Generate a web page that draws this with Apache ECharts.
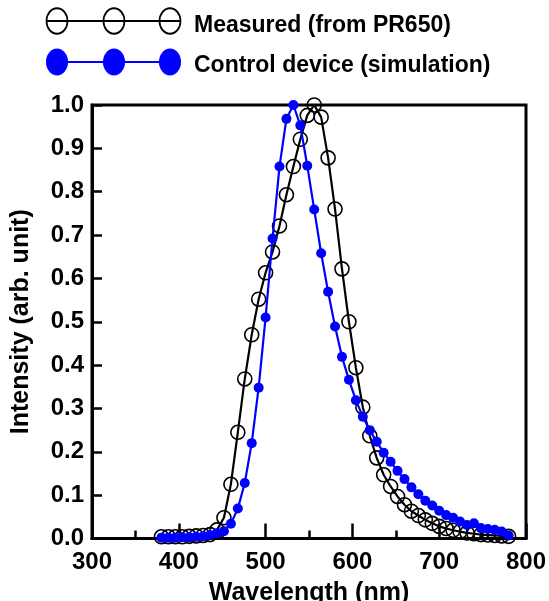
<!DOCTYPE html>
<html>
<head>
<meta charset="utf-8">
<script src="https://cdn.jsdelivr.net/npm/echarts@6/dist/echarts.min.js"></script>
<style>
html,body{margin:0;padding:0;background:#fff;}
#chart{width:549px;height:601px;}
</style>
</head>
<body>
<div id="chart"></div>
<script>
// Wavelengths (nm), both series sampled every 8 nm from 380 to 780
const wavelengths = [];
for (let w = 380; w <= 780; w += 8) wavelengths.push(w);

const measuredName = 'Measured (from PR650)';
const simulationName = 'Control device (simulation)';

const measured = [
  0.004, 0.004, 0.004, 0.004, 0.005, 0.006, 0.007, 0.009,
  0.020, 0.048, 0.125, 0.245, 0.368, 0.470, 0.552, 0.613,
  0.661, 0.721, 0.793, 0.858, 0.921, 0.976, 1.000, 0.972,
  0.878, 0.760, 0.622, 0.500, 0.394, 0.303, 0.237, 0.186,
  0.147, 0.120, 0.097, 0.078, 0.063, 0.053, 0.043, 0.035,
  0.028, 0.023, 0.019, 0.016, 0.013, 0.011, 0.009, 0.008,
  0.007, 0.006, 0.005
];

const simulation = [
  0.002, 0.002, 0.002, 0.003, 0.003, 0.004, 0.005, 0.008,
  0.012, 0.017, 0.034, 0.069, 0.128, 0.220, 0.348, 0.510,
  0.692, 0.858, 0.968, 1.000, 0.953, 0.860, 0.759, 0.658,
  0.569, 0.489, 0.419, 0.366, 0.319, 0.281, 0.250, 0.223,
  0.198, 0.177, 0.156, 0.137, 0.118, 0.102, 0.087, 0.076,
  0.064, 0.054, 0.048, 0.039, 0.031, 0.035, 0.024, 0.022,
  0.020, 0.016, 0.007
];

const xTicks = [300, 400, 500, 600, 700, 800];
const yTicks = [0, 0.1, 0.2, 0.3, 0.4, 0.5, 0.6, 0.7, 0.8, 0.9, 1.0];

const FONT = "'Liberation Sans', Arial, sans-serif";
const BLUE = '#0000ff';

const pair = (ys) => wavelengths.map((w, i) => [w, ys[i]]);

function legendIcon(y, isOpen) {
  const color = isOpen ? '#000' : BLUE;
  const els = [{
    type: 'line',
    shape: { x1: 46, y1: y, x2: 181, y2: y },
    style: { stroke: color, lineWidth: 2 }
  }];
  [57, 114, 170].forEach(cx => {
    els.push({
      type: 'circle',
      x: cx, y: y, scaleY: 1.22,
      shape: { cx: 0, cy: 0, r: 10.5 },
      style: isOpen ? { fill: 'transparent', stroke: '#000', lineWidth: 1.7 }
                    : { fill: BLUE, stroke: BLUE, lineWidth: 1 }
    });
  });
  return els;
}

const chart = echarts.init(document.getElementById('chart'), null, { renderer: 'canvas' });
chart.setOption({
  animation: false,
  backgroundColor: '#fff',
  textStyle: { fontFamily: FONT },
  grid: {
    left: 92, right: 23, top: 105, bottom: 62.5,
    containLabel: false,
    outerBoundsMode: 'none',
    show: true, borderColor: '#000', borderWidth: 3, backgroundColor: 'transparent'
  },
  legend: {
    orient: 'vertical',
    left: 48, top: 9,
    itemWidth: 135, itemHeight: 24, itemGap: 17,
    selectedMode: false,
    itemStyle: { opacity: 0 },
    lineStyle: { opacity: 0 },
    textStyle: { fontFamily: FONT, fontWeight: 'bold', fontSize: 23, color: '#000' },
    data: [measuredName, simulationName]
  },
  graphic: [].concat(legendIcon(21, true), legendIcon(62, false)),
  xAxis: {
    type: 'value',
    min: xTicks[0], max: xTicks[xTicks.length - 1], interval: 100,
    name: 'Wavelength (nm)',
    nameLocation: 'middle', nameGap: 42,
    nameTextStyle: { fontFamily: FONT, fontWeight: 'bold', fontSize: 25, color: '#000' },
    axisLine: { show: true, onZero: false, lineStyle: { color: '#000', width: 3 } },
    axisTick: { show: true, inside: true, length: 15, lineStyle: { color: '#000', width: 2.5 } },
    minorTick: { show: true, splitNumber: 2, length: 8, lineStyle: { color: '#000', width: 2.5 } },
    splitLine: { show: false },
    axisLabel: { margin: 12, fontFamily: FONT, fontWeight: 'bold', fontSize: 24, color: '#000' }
  },
  yAxis: {
    type: 'value',
    min: yTicks[0], max: yTicks[yTicks.length - 1], interval: 0.1,
    name: 'Intensity (arb. unit)',
    nameLocation: 'middle', nameGap: 58,
    nameTextStyle: { fontFamily: FONT, fontWeight: 'bold', fontSize: 25, color: '#000' },
    axisLine: { show: true, lineStyle: { color: '#000', width: 3 } },
    axisTick: { show: true, inside: true, length: 10, lineStyle: { color: '#000', width: 2.5 } },
    splitLine: { show: false },
    axisLabel: {
      margin: 8, fontFamily: FONT, fontWeight: 'bold', fontSize: 24, color: '#000',
      padding: [6, 0, 0, 0],
      formatter: (v) => v.toFixed(1)
    }
  },
  series: [
    {
      name: measuredName,
      type: 'line',
      data: pair(measured),
      symbol: 'circle',
      symbolSize: 14,
      showSymbol: true,
      lineStyle: { color: '#000', width: 2.2 },
      itemStyle: { color: 'transparent', borderColor: '#000', borderWidth: 1.6 },
      z: 2
    },
    {
      name: simulationName,
      type: 'line',
      data: pair(simulation),
      symbol: 'circle',
      symbolSize: 10,
      showSymbol: true,
      lineStyle: { color: BLUE, width: 2.2 },
      itemStyle: { color: BLUE, borderColor: BLUE, borderWidth: 0 },
      z: 3
    }
  ]
});
</script>
</body>
</html>
